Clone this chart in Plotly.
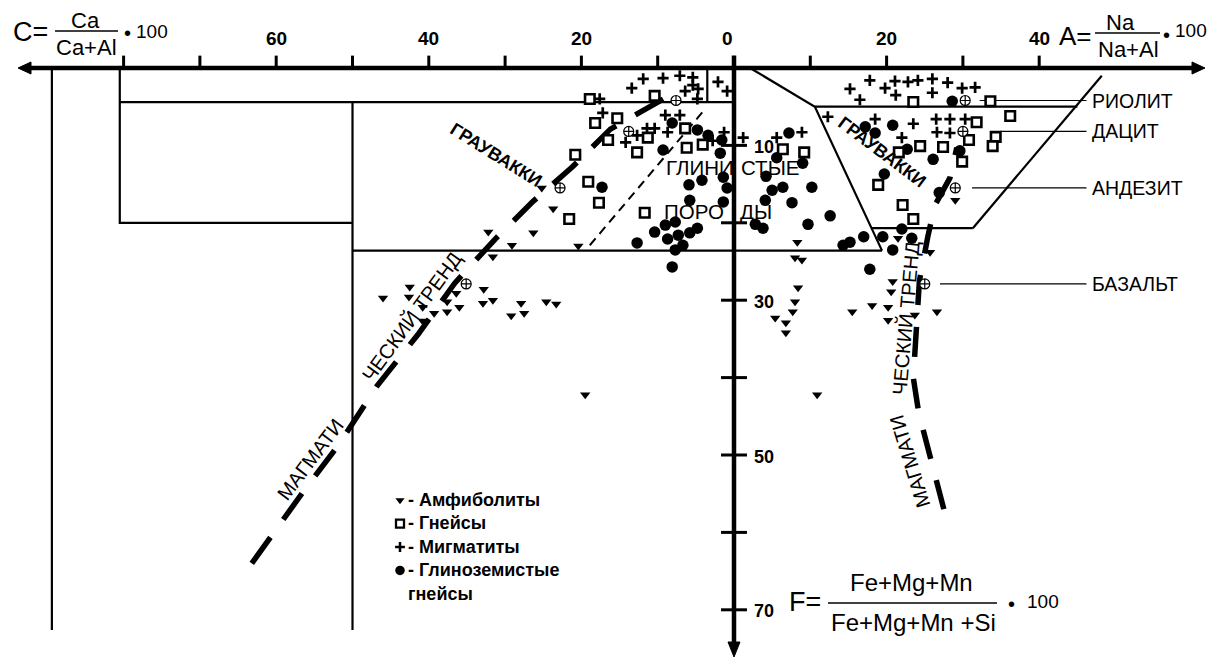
import plotly.graph_objects as go

W, H = 1213, 660
FONT = "Liberation Sans, Arial, sans-serif"

# pixel scale of the diagram (units -> px) and origin position
SX, SY = 7.63, 7.74
X0, Y0 = 734, 68


def at(px, py):
    """figure pixel -> diagram units (x: -C / +A, y: F)"""
    return (px - X0) / SX, (py - Y0) / SY


# ---------------- samples: left half, C = Ca/(Ca+Al)*100 vs F ----------------
amph_C = [25.2, 23.7, 26.3, 20.4, 32.2, 29.1, 31.6, 32.8, 31.6, 32.9, 27.9, 24.6, 23.3,
          29.2, 27.5, 42.5, 42.6, 46.0, 40.8, 40.8, 39.3, 37.6, 37.6, 36.4, 36.0, 19.5]
amph_FC = [15.5, 18.2, 21.3, 23.0, 21.2, 22.9, 24.4, 28.6, 30.0, 30.4, 30.4, 30.2, 30.5,
           32.0, 31.7, 28.3, 29.6, 29.7, 30.9, 32.7, 31.7, 31.5, 30.2, 29.1, 30.9, 42.2]

gn_C = [18.9, 10.4, 18.2, 15.3, 16.5, 20.8, 11.3, 12.7, 6.4, 6.2, 4.1, 19.1, 17.7, 21.6, 11.7]
gn_FC = [4.0, 3.6, 7.1, 6.5, 9.3, 11.2, 9.0, 10.9, 7.8, 10.3, 9.9, 14.7, 17.4, 19.5, 18.7]

mig_C = [11.9, 9.3, 7.1, 5.4, 13.4, 6.4, 4.7, 5.4, 4.8, 17.6, 2.1, 0.9, 17.2, 9.0, 7.1,
         11.4, 10.4, 8.7, 12.7, 14.2, 1.3, 2.8]
mig_FC = [1.4, 1.3, 1.0, 1.2, 2.6, 3.0, 2.7, 2.2, 4.0, 4.0, 1.8, 3.0, 5.8, 6.1, 6.1,
          7.8, 7.8, 8.3, 8.7, 9.6, 8.3, 9.4]

alg_C = [8.1, 4.8, 3.4, 1.6, 9.3, 1.8, 1.4, 0.9, 1.4, 4.2, 5.9, 5.8, 17.3, 7.7, 9.0,
         10.4, 4.8, 5.8, 7.3, 8.7, 6.7, 7.7, 12.7, 8.1]
alg_FC = [7.1, 8.0, 8.7, 9.3, 10.6, 11.0, 14.1, 15.5, 17.3, 14.5, 15.1, 17.1, 15.4, 19.9, 20.3,
          21.2, 20.7, 21.3, 21.6, 22.1, 22.9, 23.5, 22.6, 25.7]

# ---------------- samples: right half, A = Na/(Na+Al)*100 vs F ----------------
amph_A = [8.3, 8.0, 8.9, 8.4, 8.0, 7.7, 5.4, 6.8, 6.8, 10.9, 15.5, 18.1, 20.2, 20.2,
          20.6, 20.8, 21.5, 25.7, 29.0, 23.7, 26.6]
amph_FA = [22.5, 24.5, 24.8, 28.4, 30.2, 31.5, 32.3, 32.9, 34.2, 42.2, 31.5, 30.7, 30.9, 32.6,
           28.9, 27.6, 22.0, 23.8, 17.1, 31.9, 31.5]

gn_A = [6.4, 9.2, 23.5, 33.6, 36.2, 31.8, 30.8, 34.3, 33.9, 24.4, 27.4, 29.9, 21.6, 18.9, 22.1, 23.5]
gn_FA = [10.5, 10.9, 4.4, 4.3, 6.2, 7.0, 9.3, 8.9, 10.1, 10.1, 10.2, 12.1, 10.9, 15.1, 17.7, 19.5]

mig_A = [15.2, 16.5, 17.8, 19.8, 21.1, 21.2, 22.8, 24.1, 26.0, 26.0, 28.0, 29.9, 31.6,
         12.3, 18.5, 23.5, 26.5, 28.3, 30.3, 26.6, 28.3, 22.0, 5.6, 8.9, 1.2]
mig_FA = [2.7, 4.1, 1.6, 2.6, 1.7, 3.5, 1.8, 1.6, 1.4, 3.2, 1.9, 2.6, 2.5,
          6.3, 6.6, 7.2, 6.6, 6.6, 6.6, 8.3, 8.4, 9.0, 9.0, 8.3, 9.0]

alg_A = [7.2, 5.6, 9.0, 4.2, 6.4, 5.0, 4.1, 7.6, 10.2, 12.6, 9.7, 2.8, 3.8, 14.3, 15.2,
         17.0, 19.5, 22.0, 23.3, 20.8, 17.8, 17.2, 18.5, 20.8, 22.7, 26.1, 29.6, 19.7, 26.9, 28.6]
alg_FA = [8.4, 11.6, 12.3, 14.0, 15.4, 15.8, 17.1, 17.4, 15.4, 19.1, 20.2, 20.2, 20.7, 22.9, 22.5,
          21.8, 21.8, 20.8, 22.0, 23.5, 26.0, 7.6, 8.4, 7.4, 10.5, 11.8, 10.7, 13.7, 16.1, 4.3]

# ---------------- reference volcanic rocks ----------------
rock_names = ["РИОЛИТ", "ДАЦИТ", "АНДЕЗИТ", "БАЗАЛЬТ"]
rock_F = [4.2, 8.2, 15.5, 27.9]
rock_C = [7.6, 13.8, 22.8, 35.1]
rock_A = [30.3, 30.0, 29.0, 25.0]
leader_from_A = [32.2, 34.9, 31.2, 27.0]
leader_to_A = 46.2

# ---------------- magmatic trends ----------------
trend_C = [63.2, 56.5, 51.9, 46.8, 41.4, 36.6, 31.3, 26.3, 21.2, 16.2, 8.7]
trend_FC = [64.0, 54.8, 48.8, 41.1, 34.4, 27.8, 22.1, 17.2, 12.8, 7.9, 3.7]
trend_A = [27.5, 24.2, 23.5, 23.9, 24.3, 25.4, 26.3, 28.3, 29.2]
trend_FA = [57.0, 44.5, 40.0, 33.0, 27.5, 21.8, 17.8, 14.2, 10.3]

# clay-rock field divider (left half)
clay_C = [18.9, 3.7]
clay_F = [22.9, 5.2]

# ---------------- field boundaries (x < 0 is the C side) ----------------
frame_outer = [(-89.4, 0), (-89.4, 72.6)]
frame_grey = [(-80.5, 0), (-80.5, 20.0), (-50.0, 20.0)]
frame_h1 = [(-80.5, 4.4), (0, 4.4)]
frame_v50 = [(-50.0, 4.4), (-50.0, 72.6)]
frame_h2 = [(-50.0, 23.6), (19.4, 23.6)]
frame_small = [(-3.5, 0), (-3.5, 4.4)]
grey_right = [(2.1, 0), (10.6, 5.0), (19.4, 23.6)]
trap_top = [(10.6, 5.0), (45.0, 5.0)]
trap_right = [(48.2, 1.0), (31.3, 20.7)]
trap_bottom = [(18.0, 20.7), (31.3, 20.7)]

# axis ticks and labels
c_ticks = [10, 20, 30, 40, 50, 60, 70, 80]
c_labels = [20, 40, 60]
a_ticks = [10, 20, 30, 40]
a_labels = [20, 40]
f_ticks = [10, 20, 30, 40, 50, 60, 70]
f_labels = [10, 30, 50, 70]

# legend entries
legend_names = ["- Амфиболиты", "- Гнейсы", "- Мигматиты", "- Глиноземистые", "гнейсы"]

fig = go.Figure()
shapes = []
anns = []


def poly(pts, width=2.2, dash=None):
    d = "M " + " L ".join(f"{x},{y}" for x, y in pts)
    line = dict(color="black", width=width)
    if dash:
        line["dash"] = dash
    shapes.append(dict(type="path", path=d, xref="x", yref="y", line=line, layer="below"))


def tri(pts):
    d = "M " + " L ".join(f"{x},{y}" for x, y in pts) + " Z"
    shapes.append(dict(type="path", path=d, xref="x", yref="y", fillcolor="black",
                       line=dict(color="black", width=1), layer="below"))


def label(text, x, y, size, bold=False, angle=0, xanchor="center", yanchor="middle",
          pad=1, align="center"):
    anns.append(dict(x=x, y=y, xref="x", yref="y", text=f"<b>{text}</b>" if bold else text,
                     showarrow=False, textangle=angle, xanchor=xanchor, yanchor=yanchor,
                     borderpad=pad, align=align,
                     font=dict(family=FONT, size=size, color="black")))


def plabel(text, px, py, size, **kw):
    x, y = at(px, py)
    label(text, x, y, size, **kw)


# field boundaries
for p in [frame_outer, frame_grey, frame_h1, frame_v50, frame_h2, frame_small,
          grey_right, trap_top, trap_right, trap_bottom]:
    poly(p)

# axes with arrows
left_tip, _ = at(18, 0)
right_tip, _ = at(1205, 0)
_, bottom_tip = at(0, 657)
ah_x, ah_y = 13 / SX, 6 / SY      # arrowhead length / half width
av_y, av_x = 15 / SY, 6 / SX
poly([(left_tip + ah_x, 0), (right_tip - ah_x, 0)], width=4.5)
poly([(0, -1.6), (0, bottom_tip - av_y)], width=4.5)
tri([(left_tip, 0), (left_tip + ah_x, -ah_y), (left_tip + ah_x, ah_y)])
tri([(right_tip, 0), (right_tip - ah_x, -ah_y), (right_tip - ah_x, ah_y)])
tri([(0, bottom_tip), (-av_x, bottom_tip - av_y), (av_x, bottom_tip - av_y)])

for c in c_ticks:
    poly([(-c, 0), (-c, -1.6)], width=3)
for a in a_ticks:
    poly([(a, 0), (a, -1.6)], width=3)
for f in f_ticks:
    poly([(-1.7, f), (1.7, f)], width=3)

_, ylab = at(0, 38)
for c in c_labels:
    label(str(c), -c, ylab, 19, bold=True)
label("0", -0.8, ylab, 19, bold=True)
for a in a_labels:
    label(str(a), a, ylab, 19, bold=True)
for f in f_labels:
    label(str(f), 2.4, f + 0.2, 18, bold=True, xanchor="left")

# rock reference leaders and names
for name, f, a0 in zip(rock_names, rock_F, leader_from_A):
    poly([(a0, f), (leader_to_A, f)], width=1.2)
    label(name, leader_to_A + 0.4, f, 19.5, xanchor="left")

# trends
fig.add_trace(go.Scatter(x=[-c for c in trend_C], y=trend_FC, mode="lines",
                         line=dict(color="black", width=5.5, dash="32px,22px"), hoverinfo="skip"))
fig.add_trace(go.Scatter(x=trend_A, y=trend_FA, mode="lines",
                         line=dict(color="black", width=5.5, dash="30px,22px"), hoverinfo="skip"))
fig.add_trace(go.Scatter(x=[-c for c in clay_C], y=clay_F, mode="lines",
                         line=dict(color="black", width=2, dash="9px,6px"), hoverinfo="skip"))


def pts(x, y, symbol, size, color="black", lw=0):
    fig.add_trace(go.Scatter(x=x, y=y, mode="markers", hoverinfo="skip",
                             marker=dict(symbol=symbol, size=size, color=color,
                                         line=dict(color="black", width=lw))))


neg = lambda v: [-x for x in v]
# amphibolites
pts(neg(amph_C), amph_FC, "triangle-down", 9)
pts(amph_A, amph_FA, "triangle-down", 9)
# aluminous gneisses
pts(neg(alg_C), alg_FC, "circle", 11.5)
pts(alg_A, alg_FA, "circle", 11.5)
# gneisses
pts(neg(gn_C), gn_FC, "square", 9.5, color="white", lw=2.6)
pts(gn_A, gn_FA, "square", 9.5, color="white", lw=2.6)
# migmatites
pts(neg(mig_C), mig_FC, "cross-thin", 8, lw=2.7)
pts(mig_A, mig_FA, "cross-thin", 8, lw=2.7)
# volcanic reference points
pts(neg(rock_C), rock_F, "circle-cross", 10, color="white", lw=1.2)
pts(rock_A, rock_F, "circle-cross", 10, color="white", lw=1.2)

# legend: one text block, glyphs beside the first four lines
LEG_SIZE = 18
line_h = 1.3 * LEG_SIZE
leg_mid = 547
plabel("<br>".join(legend_names), 406, leg_mid, LEG_SIZE, bold=True,
       xanchor="left", align="left")
legend_glyphs = [("triangle-down", 8, "black", 0),
                 ("square", 8, "white", 2.3),
                 ("cross-thin", 7, "black", 2.5),
                 ("circle", 9.5, "black", 0)]
for i, (sym, sz, col, lw) in enumerate(legend_glyphs):
    x, y = at(400, leg_mid + (i - 2) * line_h)
    pts([x], [y], sym, sz, color=col, lw=lw)

# field names
plabel("ГЛИНИ", 700, 167, 20.5)
plabel("СТЫЕ", 770, 167, 20.5)
plabel("ПОРО", 694, 211, 20.5)
plabel("ДЫ", 756, 211, 20.5)
plabel("ГРАУВАККИ", 496, 155, 18, bold=True, angle=32)
plabel("ГРАУВАККИ", 882, 152, 18, bold=True, angle=37)
plabel("ЧЕСКИЙ ТРЕНД", 411, 316, 20, angle=-54)
plabel("МАГМАТИ", 310, 460, 20, angle=-53)
plabel("ЧЕСКИЙ ТРЕНД", 905, 318, 20, angle=-85)
plabel("МАГМАТИ", 910, 462, 20, angle=-107)


# formulas: numerator / bar / denominator
def fraction(num, den, px_num, px_den, px0, px1, bar_py, size, gap_num=0, gap_den=0):
    x0, yb = at(px0, bar_py)
    x1, _ = at(px1, bar_py)
    poly([(x0, yb), (x1, yb)], width=1.6)
    plabel(num, px_num, bar_py + 3 - gap_num, size, yanchor="bottom", pad=0)
    plabel(den, px_den, bar_py + 3 + gap_den, size, yanchor="top", pad=0)


plabel("C=", 30, 32, 27)
fraction("Ca", "Ca+Al", 85, 86, 55, 118, 31, 22)
plabel("•", 127, 33, 20)
plabel("100", 152, 31, 19)

plabel("A=", 1075, 36, 26)
fraction("Na", "Na+Al", 1120, 1128, 1095, 1160, 33, 22)
plabel("•", 1166, 35, 20)
plabel("100", 1191, 30, 19)

plabel("F=", 805, 602, 27)
fraction("Fe+Mg+Mn", "Fe+Mg+Mn +Si", 911, 913, 828, 997, 603, 24, gap_num=9, gap_den=2)
plabel("•", 1011, 604, 20)
plabel("100", 1043, 601, 19)

xmin, ymin = at(0, 0)
xmax, ymax = at(W, H)
fig.update_layout(
    width=W, height=H, margin=dict(l=0, r=0, t=0, b=0),
    paper_bgcolor="white", plot_bgcolor="white", showlegend=False,
    xaxis=dict(range=[xmin, xmax], visible=False, fixedrange=True),
    yaxis=dict(range=[ymax, ymin], visible=False, fixedrange=True),
    shapes=shapes, annotations=anns,
)
fig.write_html("out.html")
